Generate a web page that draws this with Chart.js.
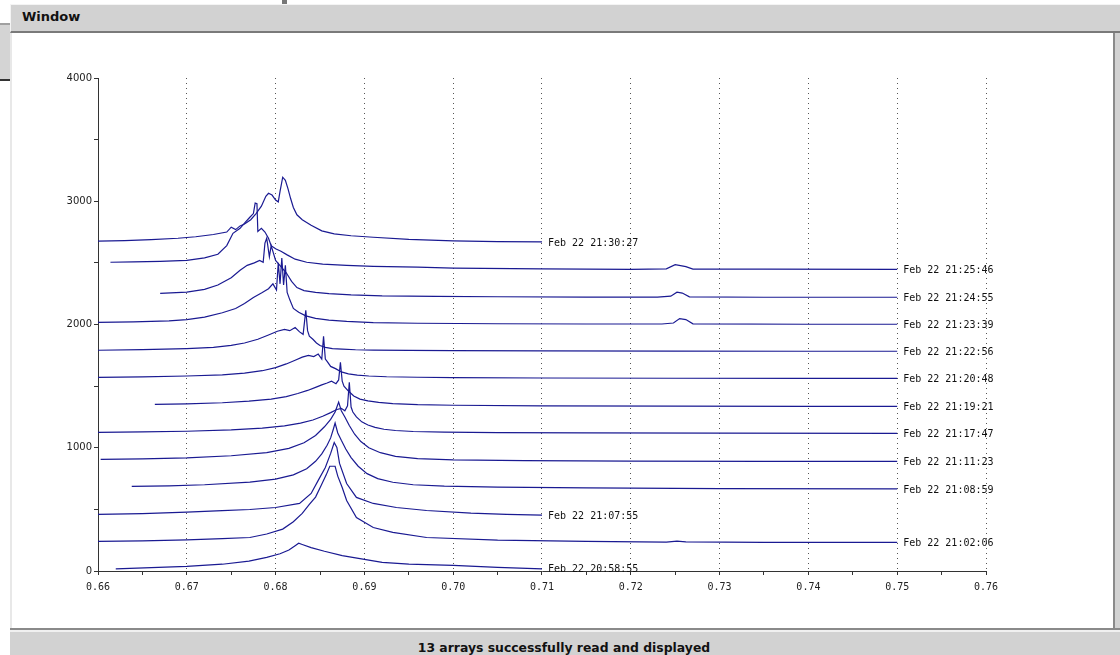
<!DOCTYPE html>
<html><head><meta charset="utf-8">
<script src="https://cdn.jsdelivr.net/npm/chart.js@4/dist/chart.umd.min.js"></script>
<style>
html,body{margin:0;padding:0;width:1120px;height:655px;overflow:hidden;background:#fff;position:relative;font-family:"DejaVu Sans",sans-serif}
#side{position:absolute;left:0;top:23px;width:10px;height:54px;background:#d4d4d4;border-top:2px solid #a0a0a0;border-bottom:2px solid #333}
#mark{position:absolute;left:282px;top:0;width:5px;height:4px;background:#777}
#title{position:absolute;left:10px;top:4px;width:1110px;height:26px;background:#d2d2d2;border-top:1px solid #f4f4f4;border-left:1px solid #f4f4f4;border-bottom:2px solid #7a7a7a}
#title span{position:absolute;left:11px;top:4px;font-weight:bold;font-size:13px;color:#111}
#panel{position:absolute;left:10px;top:33px;width:1101px;height:595px;background:#fff;border-left:2px solid #e8e8e8;border-right:2px solid #8a8a8a}
#rightgap{position:absolute;left:1115px;top:33px;width:5px;height:595px;background:#d2d2d2}
#status{position:absolute;left:10px;top:628px;width:1110px;height:27px;background:#d2d2d2;border-top:2px solid #8a8a8a;box-shadow:inset 0 2px 0 #f0f0f0}
#status span{position:absolute;left:0;width:1108px;text-align:center;top:10px;font-weight:bold;font-size:12.4px;color:#111}
#c{position:absolute;left:0;top:0}
</style></head>
<body>
<div id="side"></div><div id="mark"></div>
<div id="title"><span>Window</span></div>
<div id="panel"></div><div id="rightgap"></div>
<div id="status"><span>13 arrays successfully read and displayed</span></div>
<canvas id="c" width="1120" height="655"></canvas>
<script>
// ---- data ----
const seriesLabels = [
  "Feb 22 21:30:27","Feb 22 21:25:46","Feb 22 21:24:55","Feb 22 21:23:39",
  "Feb 22 21:22:56","Feb 22 21:20:48","Feb 22 21:19:21","Feb 22 21:17:47",
  "Feb 22 21:11:23","Feb 22 21:08:59","Feb 22 21:07:55","Feb 22 21:02:06",
  "Feb 22 20:58:55"
];
const xTickValues = [0.66,0.67,0.68,0.69,0.70,0.71,0.72,0.73,0.74,0.75,0.76];
const yTickValues = [0,1000,2000,3000,4000];

const s1x = [0.6600,0.6630,0.6660,0.6690,0.6710,0.6730,0.6745,0.6750,0.6755,0.6760,0.6765,0.6772,0.6778,0.6784,0.6789,0.6792,0.6796,0.6800,0.6803,0.6805,0.6808,0.6811,0.6814,0.6817,0.6820,0.6824,0.6830,0.6840,0.6852,0.6866,0.6885,0.6910,0.6950,0.7000,0.7050,0.7100];
const s1y = [2676,2680,2688,2700,2712,2730,2750,2790,2770,2800,2815,2850,2900,2960,3040,3065,3050,3010,2995,3080,3195,3170,3100,3020,2950,2890,2850,2805,2760,2735,2720,2708,2690,2678,2672,2670];

const s2x = [0.6614,0.6640,0.6670,0.6700,0.6720,0.6735,0.6745,0.6752,0.6760,0.6766,0.6771,0.6775,0.6777,0.6779,0.6780,0.6784,0.6788,0.6792,0.6795,0.6800,0.6806,0.6813,0.6822,0.6835,0.6853,0.6880,0.6910,0.6960,0.7000,0.7100,0.7200,0.7240,0.7250,0.7256,0.7262,0.7270,0.7350,0.7500];
const s2y = [2505,2508,2512,2520,2540,2570,2640,2740,2780,2830,2870,2900,2985,2980,2755,2780,2750,2700,2640,2615,2595,2565,2530,2505,2490,2480,2472,2465,2458,2452,2448,2452,2485,2478,2470,2450,2449,2448];

const s3x = [0.6670,0.6700,0.6720,0.6735,0.6750,0.6760,0.6768,0.6776,0.6782,0.6786,0.6788,0.6790,0.6793,0.6795,0.6800,0.6806,0.6812,0.6818,0.6824,0.6832,0.6845,0.6860,0.6885,0.6920,0.6980,0.7050,0.7150,0.7230,0.7245,0.7252,0.7258,0.7266,0.7350,0.7500];
const s3y = [2253,2262,2285,2320,2380,2440,2480,2500,2520,2505,2660,2700,2550,2640,2520,2470,2420,2350,2300,2275,2260,2250,2240,2232,2228,2225,2222,2222,2230,2262,2255,2224,2221,2221];

const s4x = [0.6600,0.6640,0.6680,0.6700,0.6720,0.6740,0.6755,0.6765,0.6775,0.6785,0.6792,0.6797,0.6801,0.6803,0.6805,0.6807,0.6809,0.6811,0.6813,0.6816,0.6820,0.6826,0.6834,0.6845,0.6860,0.6880,0.6910,0.6960,0.7050,0.7150,0.7235,0.7248,0.7255,0.7262,0.7270,0.7400,0.7500];
const s4y = [2018,2022,2030,2040,2060,2095,2130,2170,2220,2260,2290,2330,2280,2500,2330,2540,2320,2480,2260,2200,2130,2100,2070,2050,2035,2025,2015,2010,2006,2004,2004,2012,2048,2040,2005,2002,2002];

const s5x = [0.6600,0.6650,0.6700,0.6730,0.6750,0.6765,0.6780,0.6792,0.6802,0.6810,0.6816,0.6822,0.6827,0.6831,0.6834,0.6836,0.6838,0.6842,0.6846,0.6850,0.6856,0.6864,0.6875,0.6890,0.6910,0.6950,0.7000,0.7100,0.7250,0.7400,0.7500];
const s5y = [1791,1796,1805,1815,1830,1850,1880,1915,1945,1960,1950,1975,1940,1920,2115,1950,1905,1880,1850,1830,1815,1805,1800,1795,1792,1790,1788,1786,1784,1783,1783];

const s6x = [0.6600,0.6650,0.6700,0.6740,0.6765,0.6785,0.6800,0.6812,0.6822,0.6830,0.6837,0.6843,0.6848,0.6852,0.6854,0.6856,0.6858,0.6862,0.6868,0.6874,0.6882,0.6892,0.6905,0.6925,0.6960,0.7000,0.7100,0.7250,0.7400,0.7500];
const s6y = [1571,1575,1582,1592,1605,1625,1650,1680,1710,1735,1750,1740,1760,1720,1904,1720,1700,1660,1640,1615,1600,1590,1582,1576,1572,1569,1566,1564,1563,1563];

const s7x = [0.6664,0.6700,0.6740,0.6770,0.6795,0.6812,0.6825,0.6836,0.6845,0.6852,0.6858,0.6863,0.6868,0.6871,0.6873,0.6875,0.6877,0.6882,0.6888,0.6895,0.6904,0.6916,0.6932,0.6960,0.7000,0.7100,0.7250,0.7400,0.7500];
const s7y = [1352,1356,1365,1378,1395,1415,1440,1465,1490,1510,1525,1540,1520,1550,1693,1540,1500,1460,1420,1395,1380,1368,1358,1350,1345,1340,1338,1336,1336];

const s8x = [0.6600,0.6650,0.6700,0.6750,0.6785,0.6810,0.6828,0.6842,0.6853,0.6862,0.6869,0.6874,0.6878,0.6881,0.6883,0.6885,0.6887,0.6891,0.6897,0.6904,0.6912,0.6922,0.6935,0.6955,0.6990,0.7050,0.7150,0.7300,0.7500];
const s8y = [1125,1128,1134,1145,1160,1178,1200,1225,1255,1285,1310,1320,1300,1340,1531,1330,1290,1250,1210,1185,1165,1150,1140,1132,1126,1122,1120,1118,1117];

const s9x = [0.6603,0.6650,0.6700,0.6750,0.6790,0.6815,0.6832,0.6845,0.6855,0.6862,0.6867,0.6871,0.6874,0.6878,0.6883,0.6889,0.6896,0.6905,0.6918,0.6935,0.6960,0.7000,0.7080,0.7200,0.7350,0.7500];
const s9y = [906,910,918,935,960,995,1040,1100,1170,1230,1290,1370,1300,1250,1180,1110,1050,1000,960,930,912,902,895,892,890,889];

const s10x = [0.6638,0.6680,0.6720,0.6771,0.6800,0.6820,0.6835,0.6845,0.6852,0.6858,0.6862,0.6865,0.6867,0.6870,0.6874,0.6879,0.6885,0.6893,0.6903,0.6915,0.6932,0.6955,0.6990,0.7050,0.7150,0.7300,0.7500];
const s10y = [686,690,700,721,745,780,830,890,950,1020,1080,1150,1200,1120,1060,990,920,850,790,750,720,700,688,680,674,669,666];

const s11x = [0.6600,0.6650,0.6700,0.6740,0.6771,0.6800,0.6827,0.6840,0.6848,0.6856,0.6862,0.6866,0.6869,0.6872,0.6880,0.6891,0.6910,0.6936,0.6970,0.7020,0.7060,0.7100];
const s11y = [459,466,478,490,499,515,548,629,735,840,954,1043,1003,873,710,597,548,515,491,470,460,454];

const s12x = [0.6600,0.6650,0.6700,0.6740,0.6771,0.6790,0.6808,0.6820,0.6830,0.6838,0.6845,0.6851,0.6857,0.6861,0.6867,0.6870,0.6875,0.6880,0.6891,0.6910,0.6932,0.6970,0.7050,0.7150,0.7240,0.7252,0.7262,0.7350,0.7500];
const s12y = [240,244,252,262,272,300,340,400,467,540,600,690,780,850,850,770,678,572,434,353,313,272,250,240,234,242,236,233,232];

const s13x = [0.6620,0.6660,0.6700,0.6740,0.6770,0.6790,0.6805,0.6815,0.6822,0.6826,0.6830,0.6840,0.6855,0.6875,0.6900,0.6920,0.6950,0.7000,0.7050,0.7100];
const s13y = [18,28,37,55,80,110,140,170,205,225,215,190,160,125,95,70,55,45,30,18];

// ---- chart ----
const allX = [s1x,s2x,s3x,s4x,s5x,s6x,s7x,s8x,s9x,s10x,s11x,s12x,s13x];
const allY = [s1y,s2y,s3y,s4y,s5y,s6y,s7y,s8y,s9y,s10y,s11y,s12y,s13y];
const lineColor = '#1a1a92';

const datasets = seriesLabels.map((lab, i) => ({
  label: lab,
  data: allX[i].map((x, j) => ({x: x, y: allY[i][j]})),
  borderColor: lineColor,
  borderWidth: 1.2,
  pointRadius: 0,
  fill: false,
  tension: 0
}));

const isMajorX = v => xTickValues.some(t => Math.abs(t - v) < 1e-7);
const isMajorY = v => yTickValues.some(t => Math.abs(t - v) < 1e-7);

const endLabels = {
  id: 'endLabels',
  afterDatasetsDraw(chart) {
    const ctx = chart.ctx;
    ctx.save();
    ctx.font = '10px "DejaVu Sans Mono", monospace';
    ctx.fillStyle = '#111';
    ctx.textBaseline = 'middle';
    ctx.textAlign = 'left';
    chart.data.datasets.forEach((ds, i) => {
      const meta = chart.getDatasetMeta(i);
      const last = meta.data[meta.data.length - 1];
      ctx.fillText(ds.label, last.x + 6, last.y + 1);
    });
    ctx.restore();
  }
};

new Chart(document.getElementById('c'), {
  type: 'line',
  data: { datasets: datasets },
  options: {
    responsive: false,
    animation: false,
    events: [],
    layout: { padding: { left: 38, right: 134, top: 78, bottom: 54 } },
    plugins: { legend: { display: false }, tooltip: { enabled: false } },
    scales: {
      x: {
        type: 'linear', min: 0.66, max: 0.76,
        afterFit(s) { s.height = 30; },
        border: { display: true, color: '#333', width: 1, dash: [1, 4] },
        grid: {
          drawOnChartArea: true,
          color: c => (c.tick && isMajorX(c.tick.value)) ? '#555' : 'rgba(0,0,0,0)',
          tickColor: '#333', tickLength: 4, lineWidth: 1
        },
        ticks: {
          stepSize: 0.005, autoSkip: false, maxRotation: 0, padding: 6,
          color: '#222', font: { family: '"DejaVu Sans Mono", monospace', size: 10 },
          callback: v => isMajorX(v) ? v.toFixed(2) : ''
        }
      },
      y: {
        type: 'linear', min: 0, max: 4000,
        afterFit(s) { s.width = 60; },
        border: { display: true, color: '#333', width: 1 },
        grid: { drawOnChartArea: false, tickColor: '#333', tickLength: 4 },
        ticks: {
          stepSize: 500, padding: 2, color: '#222',
          font: { family: '"DejaVu Sans", sans-serif', size: 10 },
          callback: v => isMajorY(v) ? String(v) : ''
        }
      }
    }
  },
  plugins: [endLabels]
});
</script>
</body></html>
